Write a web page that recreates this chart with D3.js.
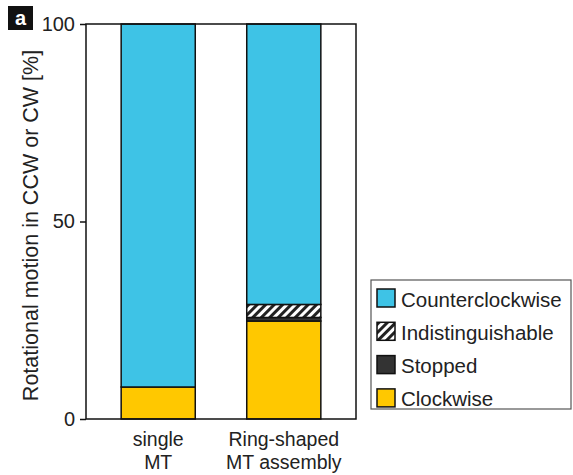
<!DOCTYPE html>
<html>
<head>
<meta charset="utf-8">
<script src="https://cdn.jsdelivr.net/npm/d3@7"></script>
<style>
  body { margin: 0; background: #fff; }
  text { font-family: "Liberation Sans", Arial, sans-serif; fill: #222; }
</style>
</head>
<body>
<div id="chart"></div>
<script>
// data (percent)
const categories = ["single\nMT", "Ring-shaped\nMT assembly"];
const seriesNames = ["Clockwise", "Stopped", "Indistinguishable", "Counterclockwise"];
const clockwise = [8.1, 24.8];
const stopped = [0, 0.9];
const indistinguishable = [0, 3.3];
const counterclockwise = [91.9, 71.0];
const yTicks = [0, 50, 100];
const legendOrder = ["Counterclockwise", "Indistinguishable", "Stopped", "Clockwise"];

const colors = {
  Clockwise: "#ffc800",
  Stopped: "#333333",
  Indistinguishable: "url(#hatch)",
  Counterclockwise: "#3ec3e6"
};

const chart = {
  width: 573,
  height: 475,
  margin: {top: 24, right: 217, bottom: 56, left: 86}
};

const svg = d3.select("#chart").append("svg")
  .attr("width", chart.width)
  .attr("height", chart.height);

// hatch pattern for indistinguishable
const pat = svg.append("defs").append("pattern")
  .attr("id", "hatch")
  .attr("patternUnits", "userSpaceOnUse")
  .attr("width", 6).attr("height", 6)
  .attr("patternTransform", "rotate(45)");
pat.append("rect").attr("width", 6).attr("height", 6).attr("fill", "#fff");
pat.append("rect").attr("width", 3).attr("height", 6).attr("fill", "#222");

const {margin} = chart;
const w = chart.width - margin.left - margin.right;
const h = chart.height - margin.top - margin.bottom;

const g = svg.append("g").attr("transform", "translate(" + margin.left + "," + margin.top + ")");

const x = d3.scaleBand()
  .domain(categories)
  .range([0, w])
  .paddingInner(0.41)
  .paddingOuter(0.28);

const y = d3.scaleLinear().domain([0, 100]).range([h, 0]);

// stack the series
const rows = categories.map((c, i) => ({
  cat: c,
  Clockwise: clockwise[i],
  Stopped: stopped[i],
  Indistinguishable: indistinguishable[i],
  Counterclockwise: counterclockwise[i]
}));
const stacked = d3.stack().keys(seriesNames)(rows);

g.append("g").selectAll("g")
  .data(stacked)
  .join("g")
    .attr("fill", d => colors[d.key])
  .selectAll("rect")
  .data(d => d.filter(s => s[1] - s[0] > 0))
  .join("rect")
    .attr("x", d => x(d.data.cat))
    .attr("width", x.bandwidth())
    .attr("y", d => y(d[1]))
    .attr("height", d => y(d[0]) - y(d[1]))
    .attr("stroke", "#111")
    .attr("stroke-width", 1.5);

// frame
g.append("rect")
  .attr("x", 0).attr("y", 0)
  .attr("width", w).attr("height", h)
  .attr("fill", "none")
  .attr("stroke", "#111")
  .attr("stroke-width", 1.5);

// y axis
const gy = g.append("g")
  .call(d3.axisLeft(y).tickValues(yTicks).tickSize(6).tickPadding(5).tickSizeOuter(0));
gy.select(".domain").remove();
gy.selectAll("line").attr("stroke", "#111").attr("stroke-width", 1.5);
gy.selectAll("text").style("font-size", "20px").attr("fill", "#222");

// y label
svg.append("text")
  .attr("transform", "translate(38," + (margin.top + h / 2 + 4) + ") rotate(-90)")
  .attr("text-anchor", "middle")
  .style("font-size", "21.5px")
  .text("Rotational motion in CCW or CW [%]");

// category labels
categories.forEach(c => {
  const t = g.append("text")
    .attr("x", x(c) + x.bandwidth() / 2)
    .attr("y", h + 27)
    .attr("text-anchor", "middle")
    .style("font-size", "19.5px");
  c.split("\n").forEach((line, i) => {
    t.append("tspan")
      .attr("x", x(c) + x.bandwidth() / 2)
      .attr("dy", i === 0 ? 0 : 23)
      .text(line);
  });
});

// legend
const legend = svg.append("g").attr("transform", "translate(371,280)");
legend.append("rect")
  .attr("width", 200).attr("height", 129)
  .attr("fill", "#fff")
  .attr("stroke", "#555")
  .attr("stroke-width", 1.2);
legendOrder.forEach((k, i) => {
  const row = legend.append("g").attr("transform", "translate(6," + (9 + i * 33.3) + ")");
  row.append("rect")
    .attr("width", 18).attr("height", 18)
    .attr("fill", colors[k])
    .attr("stroke", "#111")
    .attr("stroke-width", 1.5);
  row.append("text")
    .attr("x", 24).attr("y", 10)
    .attr("dominant-baseline", "central")
    .style("font-size", "20.5px")
    .text(k);
});

// panel label
svg.append("rect").attr("x", 8).attr("y", 6).attr("width", 25).attr("height", 24).attr("fill", "#111");
svg.append("text")
  .attr("x", 20.5).attr("y", 25)
  .attr("text-anchor", "middle")
  .style("font-size", "20px")
  .style("font-weight", "bold")
  .style("fill", "#fff")
  .text("a");
</script>
</body>
</html>
